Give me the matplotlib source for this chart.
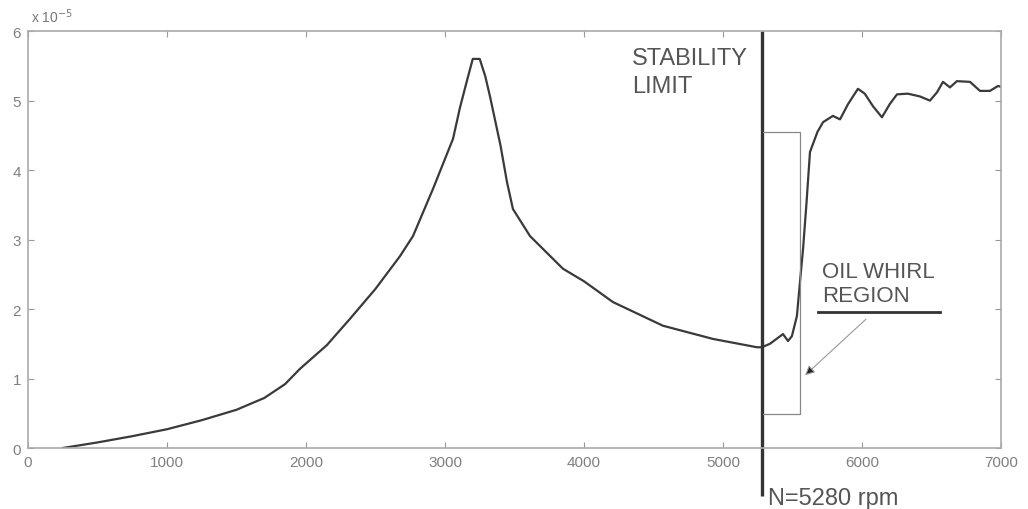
import numpy as np
import matplotlib.pyplot as plt

plt.rcParams['font.family'] = ['Liberation Sans', 'DejaVu Sans']

# shaft speed (rpm) and vibration amplitude (x 10^-5)
rpm = [250, 500, 750, 1000, 1250, 1500, 1700, 1850, 1957, 2150, 2317,
       2500, 2676, 2770, 2914, 3058, 3108, 3160, 3200, 3250, 3290, 3324,
       3400, 3446, 3489, 3612, 3849, 4000, 4209, 4568, 4928, 5245, 5280,
       5338, 5432, 5468, 5496, 5532, 5554, 5576, 5600, 5626, 5680, 5720,
       5791, 5842, 5900, 5971, 6020, 6079, 6144, 6200, 6252, 6330, 6417,
       6489, 6540, 6583, 6633, 6683, 6777, 6849, 6921, 6978, 7000]
amp = [0.0, 0.08, 0.17, 0.27, 0.40, 0.55, 0.72, 0.92, 1.14, 1.48, 1.86,
       2.29, 2.76, 3.05, 3.73, 4.45, 4.90, 5.30, 5.60, 5.60, 5.35, 5.06,
       4.35, 3.83, 3.44, 3.05, 2.58, 2.40, 2.10, 1.76, 1.57, 1.45, 1.45,
       1.50, 1.64, 1.54, 1.61, 1.90, 2.39, 2.86, 3.50, 4.26, 4.55, 4.69,
       4.78, 4.73, 4.95, 5.17, 5.10, 4.92, 4.76, 4.95, 5.09, 5.10, 5.06,
       5.00, 5.12, 5.27, 5.19, 5.28, 5.27, 5.14, 5.14, 5.21, 5.20]

limit_rpm = 5280
box_x = [5288, 5554]
box_y = [0.49, 4.55]

fig = plt.figure(figsize=(10.28, 5.10), dpi=100)
ax = fig.add_axes([0.0272, 0.1196, 0.9465, 0.8174])

ax.plot(rpm, amp, color='#3a3a3a', lw=1.6)

# stability limit line running below the axes
ax.plot([limit_rpm, limit_rpm], [6, -0.69], color='#333333', lw=2.4,
        clip_on=False, solid_capstyle='butt')

# oil whirl box
ax.plot([box_x[0], box_x[1], box_x[1], box_x[0]],
        [box_y[1], box_y[1], box_y[0], box_y[0]], color='#888888', lw=0.9)

ax.text(4345, 5.525, 'STABILITY', fontsize=17, color='#555555', va='baseline')
ax.text(4345, 5.12, 'LIMIT', fontsize=17, color='#555555', va='baseline')
ax.text(5712, 2.46, 'OIL WHIRL', fontsize=16, color='#555555', va='baseline')
ax.text(5712, 2.12, 'REGION', fontsize=16, color='#555555', va='baseline')
ax.plot([5683, 6561], [1.96, 1.96], color='#333333', lw=2)
ax.annotate('', xy=(5576, 1.02), xytext=(6043, 1.88),
            arrowprops=dict(arrowstyle='-|>', color='#999999', lw=0.8,
                            mutation_scale=14, fc='#222222', ec='#999999'))
ax.text(5324, -0.806, 'N=5280 rpm', fontsize=17, color='#555555',
        va='baseline', clip_on=False)

ax.set_xlim(0, 7000)
ax.set_ylim(0, 6)
ax.set_xticks(range(0, 7001, 1000))
ax.set_yticks(range(0, 7))
ax.tick_params(direction='in', length=4, top=True, right=True,
               labelsize=11, labelcolor='#808080', color='#999999', pad=5)
for s in ax.spines.values():
    s.set_color('#aaaaaa')
    s.set_linewidth(1.2)

fig.text(0.030, 0.955, 'x 10$^{-5}$', fontsize=10, color='#777777')

fig.savefig('out.png', dpi=100)
